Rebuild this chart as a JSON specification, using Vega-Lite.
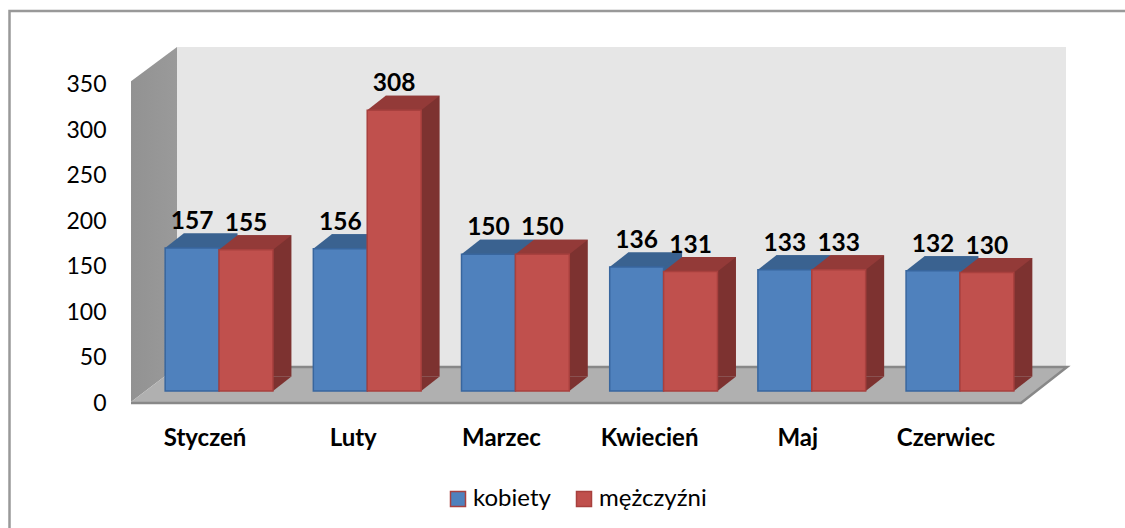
{
"$schema":"https://vega.github.io/schema/vega-lite/v6.json",
"width":936,"height":355,
"autosize":"none",
"padding":{"left":131,"top":47,"right":58,"bottom":126},
"background":"white",
"config":{"view":{"stroke":null},"font":"Lato",
 "axisY":{"title":null,"values":[0,50,100,150,200,250,300,350],"domain":false,"ticks":false,"grid":false,"labelFont":"Lato","labelFontSize":23,"labelColor":"#000000","labelPadding":25,"labelOffset":1.5},
 "axisX":{"title":null,"domain":false,"ticks":false,"grid":false,"labelAngle":0,"labelFont":"Lato","labelFontWeight":"bold","labelFontSize":24,"labelColor":"#000000","labelPadding":24}},
"datasets":{
"bars":[
{"miesiac":"Styczeń","plec":"kobiety","liczba":157},{"miesiac":"Styczeń","plec":"mężczyźni","liczba":155},
{"miesiac":"Luty","plec":"kobiety","liczba":156},{"miesiac":"Luty","plec":"mężczyźni","liczba":308},
{"miesiac":"Marzec","plec":"kobiety","liczba":150},{"miesiac":"Marzec","plec":"mężczyźni","liczba":150},
{"miesiac":"Kwiecień","plec":"kobiety","liczba":136},{"miesiac":"Kwiecień","plec":"mężczyźni","liczba":131},
{"miesiac":"Maj","plec":"kobiety","liczba":133},{"miesiac":"Maj","plec":"mężczyźni","liczba":133},
{"miesiac":"Czerwiec","plec":"kobiety","liczba":132},{"miesiac":"Czerwiec","plec":"mężczyźni","liczba":130}
],
"leftWall":[{"g":0,"a":352,"b":0},{"g":46,"a":389.5,"b":38.4}],
"backWall":[{"g":46,"a":389.5,"b":38.4},{"g":935,"a":389.5,"b":38.4}],
"floor":[{"g":0,"a":0,"b":-1},{"g":46,"a":38.4,"b":-1},{"g":890,"a":38.4,"b":-1},{"g":936,"a":38.4,"b":38.4}],
"floorEdge":[{"g":46,"a":38.4},{"g":936,"a":38.4},{"g":890,"a":-1},{"g":0,"a":-1}],
"frame":[{"g":-121.5,"a":-140},{"g":-121.5,"a":429},{"g":1000,"a":429}]
},
"layer":[
{"data":{"name":"backWall"},"mark":{"type":"area","orient":"vertical","fill":"#E6E6E6"},
 "encoding":{"x":{"field":"g","type":"quantitative","scale":{"domain":[0,936],"range":[0,936]},"axis":null},
 "y":{"field":"a","type":"quantitative","stack":null,"scale":{"domain":[0,389.5]},"title":null},"y2":{"field":"b"}}},
{"data":{"name":"leftWall"},"mark":{"type":"area","orient":"vertical","fill":{"x1":0,"y1":0,"x2":1,"y2":0,"gradient":"linear","stops":[{"offset":0,"color":"#929292"},{"offset":1,"color":"#9A9A9A"}]}},
 "encoding":{"x":{"field":"g","type":"quantitative","scale":{"domain":[0,936],"range":[0,936]},"axis":null},
 "y":{"field":"a","type":"quantitative","stack":null,"scale":{"domain":[0,389.5]},"title":null},"y2":{"field":"b"}}},
{"data":{"name":"floor"},"mark":{"type":"area","orient":"vertical","fill":"#B0B0B0"},
 "encoding":{"x":{"field":"g","type":"quantitative","scale":{"domain":[0,936],"range":[0,936]},"axis":null},
 "y":{"field":"a","type":"quantitative","stack":null,"scale":{"domain":[0,389.5]},"title":null},"y2":{"field":"b"}}},
{"data":{"name":"floorEdge"},"mark":{"type":"line","stroke":"#888888","strokeWidth":2.5},
 "encoding":{"x":{"field":"g","type":"quantitative","scale":{"domain":[0,936],"range":[0,936]},"axis":null},
 "y":{"field":"a","type":"quantitative","scale":{"domain":[0,389.5]},"title":null},"order":{"value":null}}},
{"data":{"name":"frame"},"mark":{"type":"line","stroke":"#999999","strokeWidth":2.5},
 "encoding":{"x":{"field":"g","type":"quantitative","scale":{"domain":[0,936],"range":[0,936]},"axis":null},
 "y":{"field":"a","type":"quantitative","scale":{"domain":[0,389.5]},"title":null},"order":{"value":null}}},
{"data":{"name":"bars"},"mark":{"type":"bar","yOffset":-25.5},
 "encoding":{
  "x":{"field":"miesiac","type":"nominal","sort":null,"scale":{"range":[32.5,921.5],"paddingInner":0.2727,"paddingOuter":0.136},"axis":null},
  "xOffset":{"field":"plec","type":"nominal"},
  "y":{"field":"liczba","type":"quantitative","scale":{"domain":[0,389.5]},"title":null},
  "fill":{"condition":{"test":"datum.plec==='kobiety'","value":"#3A6290"},"value":"#7D3230"}}},
{"data":{"name":"bars"},"mark":{"type":"point","filled":true,"opacity":1,"size":4,"shape":"M-13,-11L41,-11L59.5,-25.5L5.5,-25.5Z"},
 "encoding":{
  "x":{"field":"miesiac","type":"nominal","sort":null,"scale":{"range":[0,889],"paddingInner":0.2727,"paddingOuter":0.136},"title":null},
  "xOffset":{"field":"plec","type":"nominal"},
  "y":{"field":"liczba","type":"quantitative","scale":{"domain":[0,389.5]},"title":null},
  "fill":{"condition":{"test":"datum.plec==='kobiety'","value":"#3A6290"},"value":"#933A38"}}},
{"data":{"name":"bars"},"mark":{"type":"point","filled":true,"opacity":1,"size":4,"shape":"M41,-11L59.5,-25.5L41,-25.5Z"},
 "encoding":{
  "x":{"field":"miesiac","type":"nominal","sort":null,"scale":{"range":[0,889],"paddingInner":0.2727,"paddingOuter":0.136},"axis":null},
  "xOffset":{"field":"plec","type":"nominal"},
  "y":{"datum":0,"type":"quantitative","scale":{"domain":[0,389.5]},"title":null},
  "fill":{"condition":{"test":"datum.plec==='kobiety'","value":"#3A6290"},"value":"#7D3230"}}},
{"data":{"name":"bars"},"mark":{"type":"bar","yOffset":-11,"strokeWidth":1.5},
 "encoding":{
  "x":{"field":"miesiac","type":"nominal","sort":null,"scale":{"range":[14,903],"paddingInner":0.2727,"paddingOuter":0.136},"axis":null},
  "xOffset":{"field":"plec","type":"nominal"},
  "y":{"field":"liczba","type":"quantitative","scale":{"domain":[0,389.5]},"title":null},
  "fill":{"field":"plec","type":"nominal","scale":{"domain":["kobiety","mężczyźni"],"range":["#4F81BD","#C0504D"]},
   "legend":{"title":null,"orient":"none","legendX":315,"legendY":440,"direction":"horizontal","symbolType":"square","symbolSize":225,"symbolStrokeWidth":1.5,"labelFont":"Lato","labelFontSize":24,"labelColor":"#000000","labelOffset":3,"columnPadding":21}},
  "stroke":{"condition":{"test":"datum.plec==='kobiety'","value":"#38669E"},"value":"#A8403E"}}},
{"data":{"name":"bars"},"mark":{"type":"text","dx":14,"dy":-30,"baseline":"alphabetic","font":"Lato","fontWeight":"bold","fontSize":24.5,"color":"#000000"},
 "encoding":{
  "x":{"field":"miesiac","type":"nominal","sort":null,"scale":{"range":[0,889],"paddingInner":0.2727,"paddingOuter":0.136},"axis":null},
  "xOffset":{"field":"plec","type":"nominal"},
  "y":{"field":"liczba","type":"quantitative","scale":{"domain":[0,389.5]},"title":null},
  "text":{"field":"liczba","type":"quantitative"}}}
],
"resolve":{"scale":{"x":"independent","xOffset":"independent"}}
}
